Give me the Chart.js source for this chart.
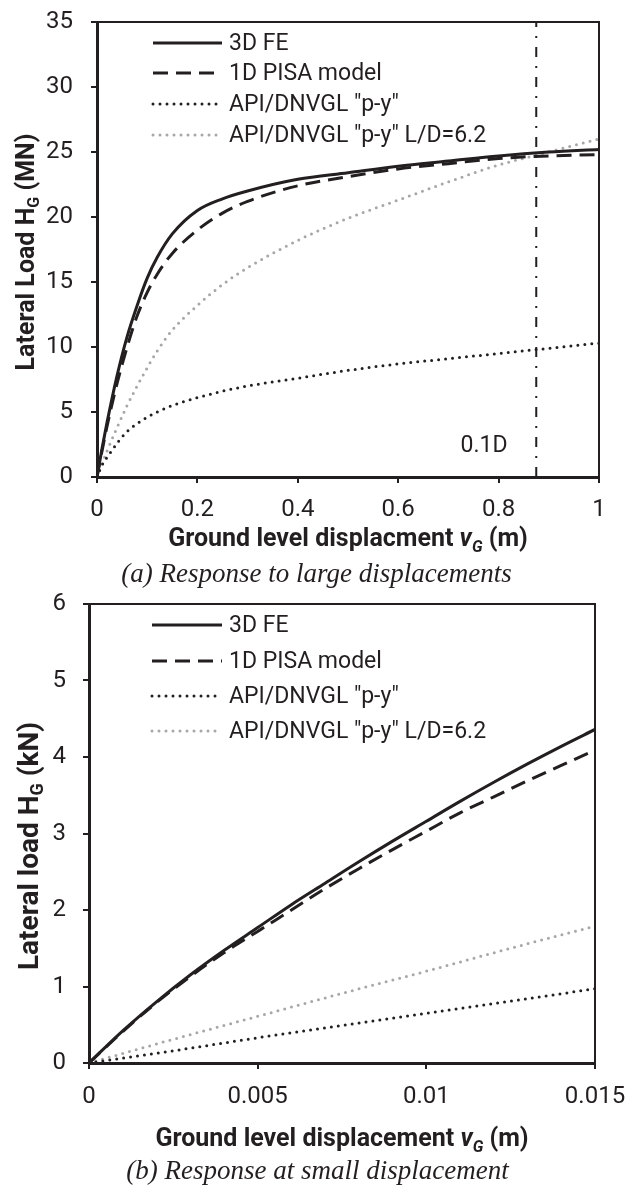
<!DOCTYPE html>
<html>
<head>
<meta charset="utf-8">
<script src="https://cdn.jsdelivr.net/npm/chart.js@4.4.1/dist/chart.umd.min.js"></script>
<style>
  body { margin: 0; background: #fff; width: 625px; height: 1185px; position: relative; overflow: hidden; }
  .box { position: absolute; left: 0; width: 625px; }
  .cap { position: absolute; width: 625px; text-align: center; line-height: 30px;
         font: italic 27px "Liberation Serif", "Times New Roman", serif; color: #231f20; }
</style>
</head>
<body>
<div class="box" style="top:0;height:590px"><canvas id="chartA"></canvas></div>
<div class="box" style="top:590px;height:595px"><canvas id="chartB"></canvas></div>
<div class="cap" style="top:558px;left:4px">(a) Response to large displacements</div>
<div class="cap" style="top:1155px;left:5px">(b) Response at small displacement</div>
<script>
// (a) large displacements, x in m, y in MN
const dispA = [0, 0.01, 0.02, 0.04, 0.06, 0.08, 0.1, 0.12, 0.15, 0.2, 0.25, 0.3, 0.4, 0.5, 0.6, 0.7, 0.8, 0.9, 1.0];
const fe3dA = [0, 2.2, 4.2, 7.8, 10.8, 13.2, 15.3, 16.9, 18.7, 20.5, 21.4, 22.0, 22.9, 23.4, 23.9, 24.3, 24.7, 25.0, 25.2];
const pisaA = [0, 2.0, 3.9, 7.2, 10.0, 12.4, 14.2, 15.6, 17.2, 19.0, 20.3, 21.2, 22.4, 23.1, 23.7, 24.1, 24.5, 24.7, 24.8];
const apiA  = [0, 0.9, 1.5, 2.6, 3.5, 4.1, 4.6, 5.0, 5.5, 6.1, 6.6, 7.0, 7.6, 8.2, 8.7, 9.1, 9.5, 9.9, 10.3];
const apiLDA = [0, 1.0, 2.0, 3.8, 5.5, 7.0, 8.4, 9.7, 11.3, 13.2, 14.8, 16.1, 18.2, 19.9, 21.3, 22.7, 24.0, 25.0, 26.0];
const marker01D = 0.875;   // 0.1D line
const xTicksA = [0, 0.2, 0.4, 0.6, 0.8, 1];
const yTicksA = [0, 5, 10, 15, 20, 25, 30, 35];

// (b) small displacements, x in m, y in kN
const dispB = [0, 0.001, 0.002, 0.003, 0.004, 0.005, 0.006, 0.007, 0.008, 0.009, 0.01, 0.011, 0.012, 0.013, 0.014, 0.015];
const fe3dB = [0, 0.42, 0.8, 1.15, 1.47, 1.77, 2.07, 2.35, 2.63, 2.9, 3.16, 3.42, 3.67, 3.91, 4.14, 4.36];
const pisaB = [0, 0.41, 0.79, 1.13, 1.44, 1.72, 2.0, 2.28, 2.54, 2.79, 3.03, 3.27, 3.48, 3.69, 3.89, 4.09];
const dispApiB = [0, 0.0025, 0.005, 0.0075, 0.01, 0.0125, 0.015];
const apiB   = [0, 0.16, 0.33, 0.49, 0.65, 0.81, 0.97];
const apiLDB = [0, 0.31, 0.61, 0.91, 1.2, 1.5, 1.79];
const xTicksB = [0, 0.005, 0.01, 0.015];
const yTicksB = [0, 1, 2, 3, 4, 5, 6];

const labels = ['3D FE', '1D PISA model', 'API/DNVGL "p-y"', 'API/DNVGL "p-y" L/D=6.2'];

const INK = '#231f20';
const GREY = '#a7a7a7';
const FONT = 'Roboto, "Liberation Sans", Arial, sans-serif';
Chart.defaults.font.family = FONT;
Chart.defaults.color = INK;

function pts(xs, ys) { return xs.map((x, i) => ({ x: x, y: ys[i] })); }

function series(xsMain, xsApi, fe, pisa, api, apild) {
  const base = { pointRadius: 0, fill: false, cubicInterpolationMode: 'monotone', borderWidth: 3 };
  return [
    Object.assign({}, base, { label: labels[0], data: pts(xsMain, fe), borderColor: INK }),
    Object.assign({}, base, { label: labels[1], data: pts(xsMain, pisa), borderColor: INK, borderDash: [15, 8] }),
    Object.assign({}, base, { label: labels[2], data: pts(xsApi, api), borderColor: INK, borderDash: [0, 7], borderCapStyle: 'round' }),
    Object.assign({}, base, { label: labels[3], data: pts(xsApi, apild), borderColor: GREY, borderDash: [0, 7], borderCapStyle: 'round' })
  ];
}

function drawRich(ctx, parts, cx, cy, rot) {
  ctx.save();
  ctx.translate(cx, cy);
  if (rot) ctx.rotate(-Math.PI / 2);
  let total = 0;
  parts.forEach(p => { ctx.font = p.font; p.w = ctx.measureText(p.t).width; total += p.w; });
  let x = -total / 2;
  ctx.fillStyle = INK;
  ctx.textBaseline = 'alphabetic';
  parts.forEach(p => { ctx.font = p.font; ctx.fillText(p.t, x, p.dy || 0); x += p.w; });
  ctx.restore();
}

// box, legend, axis titles, note
function decor(cfg) {
  return {
    id: 'decor',
    afterDatasetsDraw(chart) {
      const ctx = chart.ctx, a = chart.chartArea;
      ctx.save();
      ctx.strokeStyle = INK;
      ctx.lineWidth = 2;
      ctx.beginPath();
      ctx.moveTo(a.left, a.top); ctx.lineTo(a.right, a.top); ctx.lineTo(a.right, a.bottom);
      ctx.stroke();

      // legend inside plot
      chart.data.datasets.forEach((ds, i) => {
        if (!ds.label || i >= cfg.legendRows.length) return;
        const y = cfg.legendRows[i];
        ctx.strokeStyle = ds.borderColor;
        ctx.lineWidth = ds.borderWidth;
        ctx.lineCap = ds.borderCapStyle || 'butt';
        ctx.setLineDash(ds.borderDash || []);
        ctx.beginPath();
        ctx.moveTo(cfg.legendX0, y); ctx.lineTo(cfg.legendX1, y);
        ctx.stroke();
        ctx.setLineDash([]);
        ctx.fillStyle = INK;
        ctx.font = '23px ' + FONT;
        ctx.textBaseline = 'middle';
        ctx.textAlign = 'left';
        ctx.fillText(ds.label, cfg.legendX1 + 7, y + 1);
      });

      if (cfg.note) {
        const xs = chart.scales.x, ys = chart.scales.y;
        ctx.font = '23px ' + FONT;
        ctx.textAlign = 'center';
        ctx.textBaseline = 'middle';
        ctx.fillText(cfg.note.text, xs.getPixelForValue(cfg.note.x), ys.getPixelForValue(cfg.note.y));
      }
      ctx.restore();

      const ys = cfg.yTitleSize;
      drawRich(ctx, [
        { t: cfg.yTitle[0], font: 'bold ' + ys + 'px ' + FONT },
        { t: 'G', font: 'bold ' + Math.round(ys * 0.64) + 'px ' + FONT, dy: 5 },
        { t: cfg.yTitle[1], font: 'bold ' + ys + 'px ' + FONT }
      ], cfg.yTitleX, cfg.yTitleY, true);
      drawRich(ctx, [
        { t: cfg.xTitle[0], font: 'bold 25px ' + FONT },
        { t: 'v', font: 'italic bold 25px ' + FONT },
        { t: 'G', font: 'italic bold 16px ' + FONT, dy: 6 },
        { t: cfg.xTitle[1], font: 'bold 25px ' + FONT }
      ], (a.left + a.right) / 2, cfg.xTitleY, false);
    }
  };
}

function makeChart(id, datasets, sc, cfg) {
  return new Chart(document.getElementById(id), {
    type: 'line',
    data: { datasets: datasets },
    options: {
      responsive: true,
      maintainAspectRatio: false,
      animation: false,
      layout: { padding: { left: 0, right: sc.padRight, top: sc.padTop, bottom: 0 } },
      plugins: { legend: { display: false }, tooltip: { enabled: false } },
      scales: {
        x: {
          type: 'linear', min: sc.xTicks[0], max: sc.xTicks[sc.xTicks.length - 1],
          afterBuildTicks: s => { s.ticks = sc.xTicks.map(v => ({ value: v })); },
          afterFit: s => { s.height = sc.xHeight; s.paddingLeft = 0; s.paddingRight = 0; },
          ticks: { font: { size: 24 }, padding: sc.xPad, maxRotation: 0, autoSkip: false, callback: v => String(v) },
          grid: { drawOnChartArea: false, drawTicks: true, tickLength: 6, color: INK, lineWidth: 2 },
          border: { display: true, color: INK, width: 3 }
        },
        y: {
          type: 'linear', min: sc.yTicks[0], max: sc.yTicks[sc.yTicks.length - 1],
          afterBuildTicks: s => { s.ticks = sc.yTicks.map(v => ({ value: v })); },
          afterFit: s => { s.width = sc.yWidth; s.paddingTop = 0; s.paddingBottom = 0; },
          ticks: { font: { size: 24 }, padding: sc.yPad, autoSkip: false, callback: v => String(v) },
          grid: { drawOnChartArea: false, drawTicks: true, tickLength: 6, color: INK, lineWidth: 2 },
          border: { display: true, color: INK, width: 3 }
        }
      }
    },
    plugins: [decor(cfg)]
  });
}

const dsA = series(dispA, dispA, fe3dA, pisaA, apiA, apiLDA);
dsA.push({
  data: [{ x: marker01D, y: yTicksA[0] }, { x: marker01D, y: yTicksA[yTicksA.length - 1] }],
  borderColor: INK, borderWidth: 2, borderDash: [10, 9, 2, 9], pointRadius: 0
});

makeChart('chartA', dsA,
  { padRight: 26, padTop: 22, xHeight: 113, yWidth: 97, xPad: 13, yPad: 18, xTicks: xTicksA, yTicks: yTicksA },
  { legendRows: [43, 73, 104, 135], legendX0: 153, legendX1: 222,
    yTitle: ['Lateral Load H', ' (MN)'], yTitleX: 34, yTitleY: 252, yTitleSize: 25,
    xTitle: ['Ground level displacment ', ' (m)'], xTitleY: 546,
    note: { text: '0.1D', x: 0.771, y: 2.4 } });

makeChart('chartB', series(dispB, dispApiB, fe3dB, pisaB, apiB, apiLDB),
  { padRight: 30, padTop: 14, xHeight: 122, yWidth: 89, xPad: 14, yPad: 17, xTicks: xTicksB, yTicks: yTicksB },
  { legendRows: [35, 71, 106, 141], legendX0: 152, legendX1: 222,
    yTitle: ['Lateral load H', ' (kN)'], yTitleX: 38, yTitleY: 256, yTitleSize: 28,
    xTitle: ['Ground level displacement ', ' (m)'], xTitleY: 556 });
</script>
</body>
</html>
